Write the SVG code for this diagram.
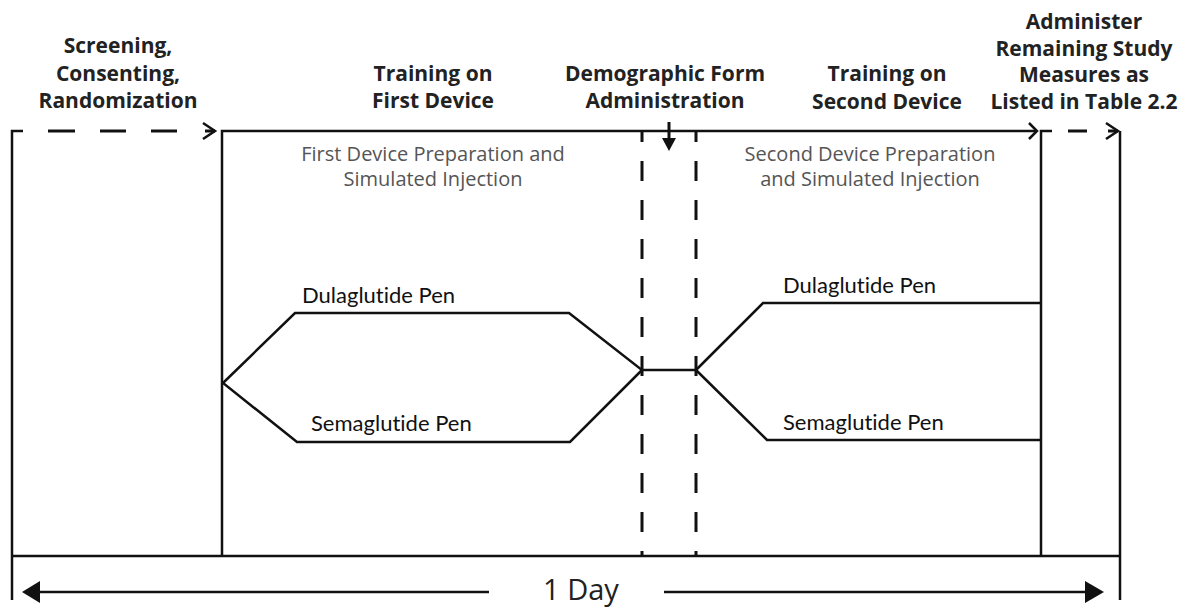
<svg xmlns="http://www.w3.org/2000/svg" width="1183" height="609" viewBox="0 0 1183 609">
<style>
.ln{stroke:#111;stroke-width:2.5;fill:none}
.dash{stroke:#111;stroke-width:3;fill:none}
.vd{stroke:#111;stroke-width:3;fill:none;stroke-dasharray:20 19;stroke-dashoffset:9}
.hd{font-family:"Open Sans","Liberation Sans",sans-serif;font-weight:700;font-size:21px;fill:#222;text-anchor:middle}
.gr{font-family:"Open Sans","Liberation Sans",sans-serif;font-size:20px;fill:#555;text-anchor:middle}
.lb{font-family:"Lato","Liberation Sans",sans-serif;font-size:22px;fill:#111;font-variant-ligatures:none}
.day{font-family:"Open Sans","Liberation Sans",sans-serif;font-size:29px;fill:#222;text-anchor:middle}
</style>
<rect width="1183" height="609" fill="#fff"/>
<g id="connectors">
  <path class="ln" d="M12,600 V131 H23"/>
  <path class="dash" d="M48,131 H75 M100,131 H126 M151,131 H177 M205,131 H215"/>
  <path class="ln" d="M203,123 L215,131 L203,139"/>
  <path class="ln" d="M222,556 V131 H1037"/>
  <path class="ln" d="M1029,123 L1037,131 L1029,139"/>
  <path class="ln" d="M1041,556 V131 H1052"/>
  <path class="dash" d="M1068,131 H1087 M1108,131 H1118"/>
  <path class="ln" d="M1106,123 L1118,131 L1106,139"/>
  <path class="ln" d="M1120,600 V131"/>
  <path class="ln" d="M12,556 H1120"/>
  <path class="vd" d="M642,131 V556"/>
  <path class="vd" d="M696,131 V556"/>
  <path d="M669,122 V140" stroke="#111" stroke-width="3" fill="none"/>
  <path d="M662,138 L676,138 L669,151 Z" fill="#111"/>
  <path class="ln" d="M223,383 L295,313 H569 L642,370 L570,442 H297 Z"/>
  <path class="ln" d="M642,370 H696"/>
  <path class="ln" d="M696,370 L763,303 H1041"/>
  <path class="ln" d="M696,370 L767,440 H1041"/>
  <path class="ln" d="M36,592 H489"/>
  <path d="M22,592 L40,581 L40,603 Z" fill="#111"/>
  <path class="ln" d="M664,592 H1088"/>
  <path d="M1104,592 L1085,581 L1085,603 Z" fill="#111"/>
</g>
<g id="screening">
  <text class="hd" x="118" y="53">Screening,</text>
  <text class="hd" x="118" y="81">Consenting,</text>
  <text class="hd" x="118" y="108">Randomization</text>
</g>
<g id="training-first">
  <text class="hd" x="433" y="81">Training on</text>
  <text class="hd" x="433" y="108">First Device</text>
</g>
<g id="demographic">
  <text class="hd" x="665" y="81">Demographic Form</text>
  <text class="hd" x="665" y="108">Administration</text>
</g>
<g id="training-second">
  <text class="hd" x="887" y="81">Training on</text>
  <text class="hd" x="887" y="109">Second Device</text>
</g>
<g id="administer">
  <text class="hd" x="1084" y="29">Administer</text>
  <text class="hd" x="1084" y="56">Remaining Study</text>
  <text class="hd" x="1084" y="82">Measures as</text>
  <text class="hd" x="1084" y="109">Listed in Table 2.2</text>
</g>
<g id="first-prep">
  <text class="gr" x="433" y="161">First Device Preparation and</text>
  <text class="gr" x="433" y="186">Simulated Injection</text>
</g>
<g id="second-prep">
  <text class="gr" x="870" y="161">Second Device Preparation</text>
  <text class="gr" x="870" y="186">and Simulated Injection</text>
</g>
<g id="dula-1"><text class="lb" x="302" y="303">Dulaglutide Pen</text></g>
<g id="sema-1"><text class="lb" x="311" y="431">Semaglutide Pen</text></g>
<g id="dula-2"><text class="lb" x="783" y="293">Dulaglutide Pen</text></g>
<g id="sema-2"><text class="lb" x="783" y="430">Semaglutide Pen</text></g>
<g id="day"><text class="day" x="581" y="600">1 Day</text></g>
</svg>
